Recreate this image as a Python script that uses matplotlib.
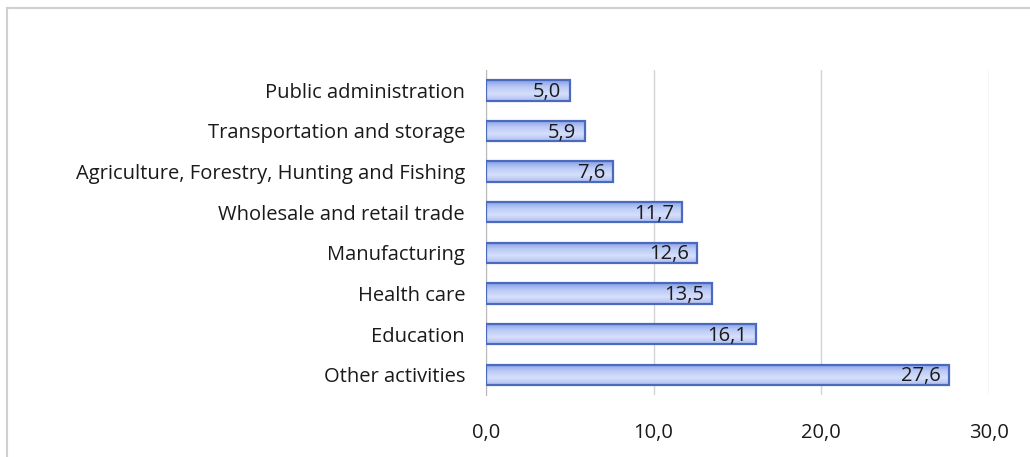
import matplotlib
matplotlib.use("Agg")
import matplotlib.pyplot as plt
import numpy as np
from matplotlib.patches import Rectangle

categories = [
    "Other activities",
    "Education",
    "Health care",
    "Manufacturing",
    "Wholesale and retail trade",
    "Agriculture, Forestry, Hunting and Fishing",
    "Transportation and storage",
    "Public administration",
]
values = [27.6, 16.1, 13.5, 12.6, 11.7, 7.6, 5.9, 5.0]
x_ticks = [0, 10, 20, 30]

plt.rcParams["font.family"] = ["Open Sans", "DejaVu Sans"]

fig = plt.figure(figsize=(10.3, 4.57), dpi=100)
ax = fig.add_axes([0.4718, 0.1357, 0.4883, 0.711])

y = np.arange(len(categories))
bars = ax.barh(y, values, height=0.5, color="none",
               edgecolor="#4a6bbd", linewidth=1.6, zorder=3)

# vertical gradient fill clipped to each bar
grad = np.linspace(0, 1, 64).reshape(-1, 1)
cmap = matplotlib.colors.LinearSegmentedColormap.from_list(
    "barfill", ["#aebdf1", "#d6dffb", "#bccbf6", "#869ee6"])
for bar in bars:
    x0, y0 = bar.get_x(), bar.get_y()
    w, h = bar.get_width(), bar.get_height()
    im = ax.imshow(grad, extent=[x0, x0 + w, y0 + h, y0], aspect="auto",
                   cmap=cmap, origin="upper", zorder=2)
    im.set_clip_path(bar)

for bar, v in zip(bars, values):
    ax.text(bar.get_width() - 0.5, bar.get_y() + bar.get_height() / 2 - 0.04,
            f"{v:.1f}".replace(".", ","), ha="right", va="center",
            fontsize=14.5, color="#1a1a1a", zorder=4)

ax.set_xlim(0, 30)
ax.set_ylim(-0.5, len(categories) - 0.5)
ax.set_yticks(y)
ax.set_yticklabels(categories, fontsize=14.5, color="#1a1a1a")
ax.set_xticks(x_ticks)
ax.set_xticklabels([f"{t:.1f}".replace(".", ",") for t in x_ticks],
                   fontsize=14.5, color="#1a1a1a")
ax.tick_params(axis="both", length=0)
ax.tick_params(axis="x", pad=20)
ax.tick_params(axis="y", pad=15)
ax.xaxis.grid(True, color="#d4d4d4", linewidth=1.0, zorder=0)
ax.set_axisbelow(True)
for side in ["top", "right", "bottom"]:
    ax.spines[side].set_visible(False)
ax.spines["left"].set_color("#b8b8b8")

# outer chart frame
fig.patches.append(Rectangle((7 / 1030, -0.05), 1.1, 1 - 8 / 457 + 0.05,
                             transform=fig.transFigure, fill=False,
                             edgecolor="#d0d0d0", linewidth=1.5))

fig.savefig("out.png", dpi=100)
